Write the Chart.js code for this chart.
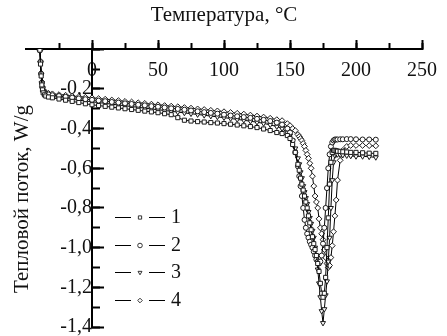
<!DOCTYPE html>
<html lang="ru">
<head>
<meta charset="UTF-8">
<title>DSC</title>
<script src="https://cdn.jsdelivr.net/npm/chart.js"></script>
<style>
  html, body { margin: 0; padding: 0; background: #fff; }
  #wrap { width: 447px; height: 336px; }
</style>
</head>
<body>
<div id="wrap"><canvas id="dsc" width="447" height="336"></canvas></div>
<script>
// temperature, °C (shared by all four runs)
const temps = [-39.5, -39, -38.5, -38, -37.5, -37, -36, -35, -33, -30, -25, -20, -15, -10, -5,
  0, 5, 10, 15, 20, 25, 30, 35, 40, 45, 50, 55, 60, 65, 70, 75, 80, 85, 90, 95, 100,
  105, 110, 115, 120, 125, 130, 135, 140,
  144, 148, 150, 152, 154,
  156, 157, 158, 159, 160, 161, 162, 163, 164, 165, 166, 167, 168, 169, 170, 171,
  172, 173, 174, 175, 176, 177, 178, 179, 180, 181, 182, 183, 184, 185, 186,
  188, 190, 193, 196, 200, 205, 210, 215];

// heat flow, W/g
const flow1 = [-0.005, -0.075, -0.135, -0.18, -0.205, -0.22, -0.23, -0.236, -0.241, -0.245, -0.251, -0.257, -0.263, -0.269, -0.275,
  -0.28, -0.284, -0.288, -0.292, -0.296, -0.3, -0.304, -0.308, -0.312, -0.316, -0.32, -0.325, -0.33, -0.345, -0.358, -0.362,
  -0.365, -0.367, -0.37, -0.372, -0.375, -0.378, -0.382, -0.386, -0.39, -0.395, -0.402, -0.41, -0.42,
  -0.425, -0.435, -0.45, -0.48, -0.52,
  -0.58, -0.61, -0.65, -0.68, -0.71, -0.74, -0.77, -0.8, -0.84, -0.875, -0.91, -0.945, -0.98, -1.01, -1.04, -1.08,
  -1.12, -1.18, -1.23, -1.25, -1.23, -1.15, -1.0, -0.85, -0.68, -0.57, -0.52, -0.51, -0.51, -0.512, -0.514,
  -0.515, -0.517, -0.518, -0.52, -0.52, -0.522, -0.524, -0.525];

const flow2 = [-0.005, -0.065, -0.125, -0.17, -0.195, -0.21, -0.22, -0.224, -0.228, -0.232, -0.236, -0.24, -0.244, -0.248, -0.252,
  -0.255, -0.259, -0.262, -0.266, -0.269, -0.273, -0.276, -0.28, -0.283, -0.287, -0.29, -0.294, -0.298, -0.301, -0.305, -0.309,
  -0.313, -0.317, -0.321, -0.325, -0.33, -0.334, -0.338, -0.342, -0.346, -0.351, -0.356, -0.362, -0.37,
  -0.38, -0.4, -0.42, -0.46, -0.52,
  -0.59, -0.64, -0.69, -0.74, -0.8, -0.86, -0.9, -0.93, -0.95, -0.97, -0.985, -1.0, -1.02, -1.04, -1.06, -1.07,
  -1.08, -1.07, -1.04, -0.98, -0.9, -0.8, -0.7, -0.6, -0.53, -0.49, -0.47, -0.46, -0.455, -0.455, -0.455,
  -0.454, -0.454, -0.453, -0.453, -0.454, -0.455, -0.455, -0.456];

const flow3 = [-0.005, -0.07, -0.13, -0.175, -0.2, -0.215, -0.225, -0.23, -0.234, -0.238, -0.243, -0.248, -0.252, -0.257, -0.261,
  -0.265, -0.269, -0.273, -0.277, -0.281, -0.285, -0.289, -0.293, -0.297, -0.301, -0.305, -0.309, -0.313, -0.317, -0.321, -0.325,
  -0.329, -0.333, -0.337, -0.341, -0.345, -0.349, -0.354, -0.358, -0.363, -0.368, -0.374, -0.381, -0.39,
  -0.4, -0.42, -0.435, -0.46, -0.5,
  -0.55, -0.58, -0.62, -0.65, -0.69, -0.72, -0.75, -0.78, -0.82, -0.85, -0.88, -0.915, -0.95, -1.0, -1.05, -1.11,
  -1.18, -1.25, -1.32, -1.38, -1.31, -1.24, -1.17, -1.07, -0.95, -0.8, -0.66, -0.57, -0.535, -0.53, -0.53,
  -0.532, -0.534, -0.536, -0.538, -0.54, -0.54, -0.542, -0.545];

const flow4 = [-0.005, -0.06, -0.12, -0.165, -0.19, -0.205, -0.214, -0.218, -0.222, -0.225, -0.229, -0.232, -0.236, -0.239, -0.242,
  -0.245, -0.249, -0.252, -0.256, -0.259, -0.263, -0.266, -0.27, -0.273, -0.277, -0.28, -0.284, -0.287, -0.29, -0.294, -0.297,
  -0.301, -0.304, -0.308, -0.311, -0.315, -0.319, -0.323, -0.327, -0.332, -0.337, -0.342, -0.348, -0.355,
  -0.36, -0.375, -0.385, -0.4, -0.41,
  -0.43, -0.44, -0.45, -0.46, -0.475, -0.49, -0.51, -0.53, -0.55, -0.575, -0.6, -0.64, -0.69, -0.74, -0.77, -0.8,
  -0.855, -0.9, -0.93, -0.96, -1.01, -1.05, -1.08, -1.1, -1.09, -1.05, -0.99, -0.92, -0.84, -0.76, -0.66,
  -0.56, -0.51, -0.49, -0.485, -0.485, -0.485, -0.486, -0.487];

const seriesNames = ['1', '2', '3', '4'];
const markers = ['rect', 'circle', 'triangle', 'rectRot'];
const markerTurn = [0, 0, 180, 0];

const xTitle = 'Температура, °C';
const yTitle = 'Тепловой поток, W/g';

const serif = 'Liberation Serif';
const ink = '#111';

function pts(ys) {
  return temps.map((t, i) => ({ x: t, y: ys[i] }));
}

const datasets = [flow1, flow2, flow3, flow4].map((ys, i) => ({
  label: seriesNames[i],
  data: pts(ys),
  borderColor: '#000',
  borderWidth: 1,
  pointStyle: markers[i],
  pointRotation: markerTurn[i],
  pointRadius: i === 1 ? 2.5 : 2.9,
  pointBorderWidth: 1,
  pointBorderColor: '#1a1a1a',
  pointBackgroundColor: '#fff',
  tension: 0
}));

// axes sitting on x = 0 / y = 0 should not take any layout room
function noRoom(scale) {
  if (scale.isHorizontal()) scale.height = 0; else scale.width = 0;
  scale.paddingTop = 0; scale.paddingBottom = 0;
  scale.paddingLeft = 0; scale.paddingRight = 0;
}

const sideText = {
  id: 'sideText',
  afterDraw(chart) {
    const ctx = chart.ctx;
    ctx.save();
    // y axis title
    ctx.fillStyle = ink;
    ctx.font = '21px "' + serif + '"';
    ctx.textAlign = 'center';
    ctx.textBaseline = 'middle';
    ctx.translate(22, 199);
    ctx.rotate(-Math.PI / 2);
    ctx.fillText(yTitle, 0, 0);
    ctx.restore();

    // legend
    ctx.save();
    const rows = [217, 245, 272, 300];
    chart.data.datasets.forEach((ds, i) => {
      const y = rows[i];
      ctx.strokeStyle = '#000';
      ctx.lineWidth = 1;
      ctx.beginPath();
      ctx.moveTo(115, y + 0.5); ctx.lineTo(131, y + 0.5);
      ctx.moveTo(149, y + 0.5); ctx.lineTo(165, y + 0.5);
      ctx.stroke();
      ctx.fillStyle = '#fff';
      ctx.strokeStyle = '#333';
      Chart.helpers.drawPoint(ctx, {
        pointStyle: ds.pointStyle, rotation: ds.pointRotation,
        radius: 2.3, borderWidth: 1
      }, 140, y + 0.5);
      ctx.fillStyle = ink;
      ctx.font = '20px "' + serif + '"';
      ctx.textAlign = 'left';
      ctx.textBaseline = 'middle';
      ctx.fillText(ds.label, 171, y + 1);
    });
    ctx.restore();
  }
};

const hide = (v) => (ctx) => (ctx.tick && v(ctx.tick.value)) ? 'rgba(0,0,0,0)' : '#000';

new Chart(document.getElementById('dsc'), {
  type: 'line',
  data: { datasets: datasets },
  plugins: [sideText],
  options: {
    responsive: false,
    devicePixelRatio: 1,
    animation: false,
    layout: { padding: { left: 26, right: 25, top: 0, bottom: 9 } },
    plugins: {
      legend: { display: false },
      tooltip: { enabled: false },
      title: {
        display: true,
        text: xTitle,
        color: ink,
        font: { family: serif, size: 21, weight: 'normal' },
        padding: { top: 3, bottom: 21 }
      }
    },
    scales: {
      x: {
        type: 'linear',
        position: { y: 0 },
        min: -50, max: 250,
        afterFit: noRoom,
        border: { display: true, color: '#000', width: 2 },
        grid: {
          drawOnChartArea: false, drawTicks: true, tickLength: -10, tickWidth: 2,
          tickColor: hide(v => v < 0)
        },
        ticks: {
          stepSize: 50, autoSkip: false, maxRotation: 0, padding: 20, color: ink,
          font: { family: serif, size: 20 },
          callback: v => v < 0 ? '' : String(v)
        }
      },
      x2: {
        type: 'linear',
        axis: 'x',
        position: { y: 0 },
        min: -50, max: 250,
        afterFit: noRoom,
        border: { display: false },
        grid: {
          drawOnChartArea: false, drawTicks: true, tickLength: -6, tickWidth: 2,
          tickColor: hide(v => v === -50)
        },
        ticks: { stepSize: 25, display: false }
      },
      y: {
        type: 'linear',
        position: { x: 0 },
        min: -1.4, max: 0,
        afterFit: noRoom,
        border: { display: true, color: '#000', width: 2 },
        grid: {
          drawOnChartArea: false, drawTicks: true, tickLength: -13, tickWidth: 2,
          tickColor: '#000'
        },
        ticks: {
          stepSize: 0.2, autoSkip: false, padding: 23, color: ink,
          font: { family: serif, size: 20 },
          callback: v => Math.abs(v) < 1e-9 ? '' : v.toFixed(1).replace('.', ',')
        }
      },
      y2: {
        type: 'linear',
        axis: 'y',
        position: { x: 0 },
        min: -1.4, max: 0,
        afterFit: noRoom,
        border: { display: false },
        grid: {
          drawOnChartArea: false, drawTicks: true, tickLength: -8, tickWidth: 2,
          tickColor: '#000'
        },
        ticks: { stepSize: 0.1, display: false }
      }
    }
  }
});
</script>
</body>
</html>
